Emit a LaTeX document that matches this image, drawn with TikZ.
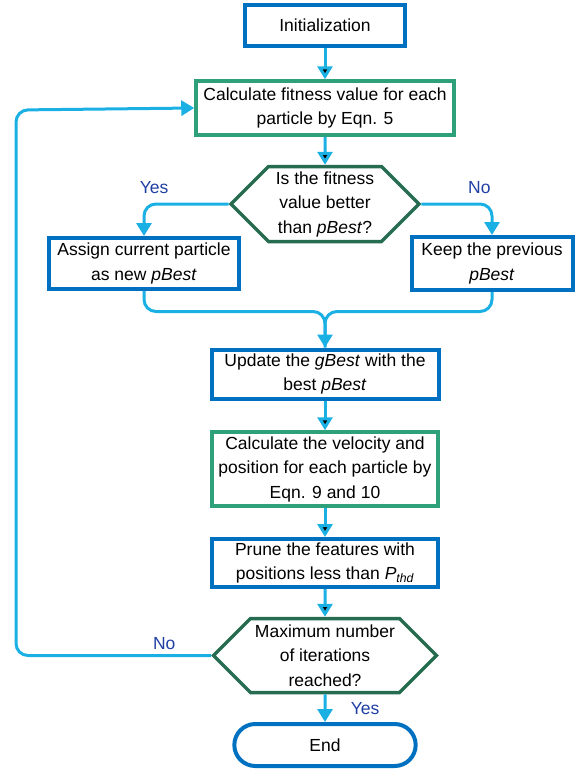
\documentclass[tikz,border=0pt]{standalone}
\usepackage{fontspec}
\setmainfont{Liberation Sans}
\usetikzlibrary{positioning,shapes.misc,shapes.symbols,arrows.meta}
\definecolor{boxblue}{RGB}{0,112,192}
\definecolor{boxgreen}{RGB}{46,160,122}
\definecolor{hexgreen}{RGB}{38,108,80}
\definecolor{flowblue}{RGB}{27,176,228}
\definecolor{answer}{RGB}{31,63,163}

\begin{document}
\begin{tikzpicture}[x=1pt,y=-1pt,node distance=80pt,on grid,
    font=\fontsize{17.5}{24.5}\selectfont,>={Triangle[width=15pt,length=13pt]}]
    \tikzset{bluebox/.style={draw=boxblue,line width=4pt,rectangle,align=center,inner sep=2pt}}
    \tikzset{greenbox/.style={draw=boxgreen,line width=3.5pt,rectangle,align=center,inner sep=2pt}}
    \tikzset{hexa/.style={draw=hexgreen,line width=3.5pt,signal,signal to=west and east,
        signal pointer angle=90,align=center,inner sep=1pt}}
    \tikzset{flow/.style={draw=flowblue,line width=3pt,rounded corners=12pt}}
    \tikzset{answer/.style={text=answer}}
    \useasboundingbox (0,0) rectangle (582,774);

    \node[bluebox,minimum width=160pt,minimum height=41pt] (init) at (325,25.5) {Initialization};
    \node[greenbox,minimum width=258pt,minimum height=54pt] (fit) [below = 82.5pt of init]
        {Calculate fitness value for each\\particle by Eqn. 5};
    \node[hexa,minimum width=188pt,minimum height=75pt] (better) [below = 96pt of fit]
        {Is the fitness\\value better\\than \textit{pBest}?};
    \node[bluebox,minimum width=190pt,minimum height=51pt] (assign) [below left = 59.5pt and 181pt of better]
        {Assign current particle\\as new \textit{pBest}};
    \node[bluebox,minimum width=161pt,minimum height=53pt] (keep) [below right = 59.5pt and 167pt of better]
        {Keep the previous\\\textit{pBest}};
    \node[bluebox,minimum width=227pt,minimum height=49pt] (gbest) [below = 170pt of better]
        {Update the \textit{gBest} with the\\best \textit{pBest}};
    \node[greenbox,minimum width=226pt,minimum height=74pt] (velo) [below = 95pt of gbest]
        {Calculate the velocity and\\position for each particle by\\Eqn. 9 and 10};
    \node[bluebox,minimum width=226pt,minimum height=48pt] (prune) [below = 94pt of velo]
        {Prune the features with\\positions less than \textit{P\textsubscript{thd}}};
    \node[hexa,minimum width=223pt,minimum height=74pt] (maxit) [below = 92.5pt of prune]
        {Maximum number\\of iterations\\reached?};
    \node[draw=boxblue,line width=4pt,rounded rectangle,minimum width=188pt,minimum height=42pt] (end)
        [below = 89.5pt of maxit] {End};

    \coordinate (merge) at ([yshift=36pt]gbest.north);
    \coordinate (back) at (16,110);

    \path[flow,->] (init) edge (fit) (fit) edge (better)
        (gbest) edge (velo) (velo) edge (prune) (prune) edge (maxit);
    \draw[flow,->] (maxit) -- node[answer,right=21pt] {Yes} (end);
    \draw[flow,->] (better.west) -| node[answer,pos=0.44,above=6pt] {Yes} (assign.north);
    \draw[flow,->] (better.east) -| node[answer,pos=0.41,above=6pt] {No} (keep.north);
    \draw[flow] (assign.south) |- (merge) -- (gbest.north);
    \draw[flow,->] (keep.south) |- (merge) -- (gbest.north);
    \draw[flow,->] (maxit.west) -| node[answer,pos=0.12,above=1pt] {No} (back) -- (fit.west);
\end{tikzpicture}
\end{document}
